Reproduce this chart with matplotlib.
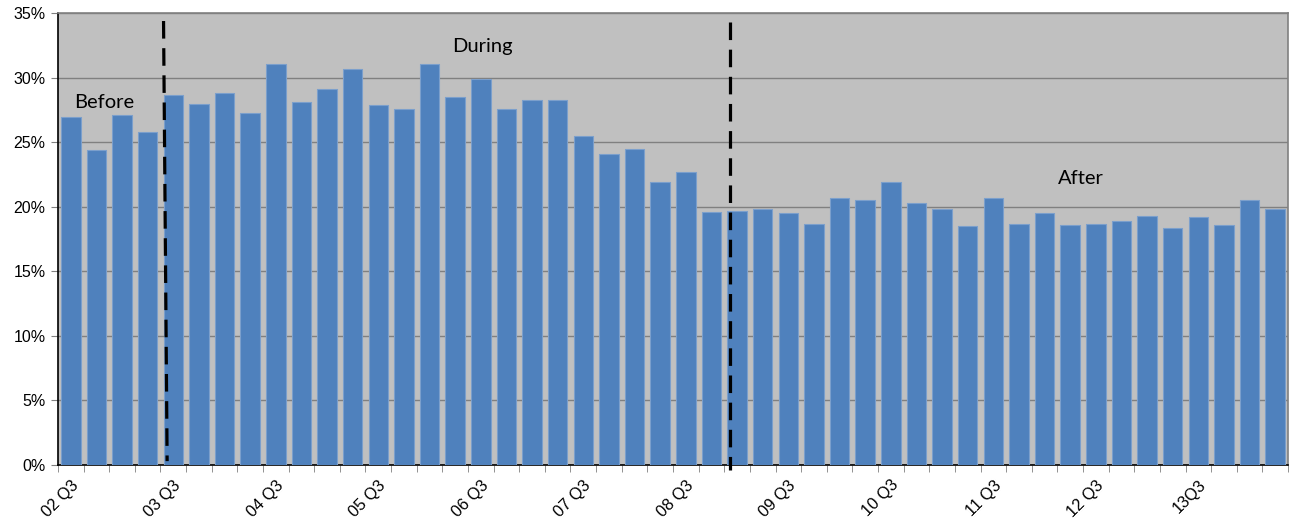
import numpy as np
import matplotlib.pyplot as plt
from matplotlib.ticker import FixedLocator

# quarterly share (%), 02 Q3 .. 14 Q2
share = [27.0, 24.4, 27.1, 25.8,
         28.7, 28.0, 28.8, 27.3,
         31.1, 28.1, 29.1, 30.7,
         27.9, 27.6, 31.1, 28.5,
         29.9, 27.6, 28.3, 28.3,
         25.5, 24.1, 24.5, 21.9,
         22.7, 19.6, 19.7, 19.8,
         19.5, 18.7, 20.7, 20.5,
         21.9, 20.3, 19.8, 18.5,
         20.7, 18.7, 19.5, 18.6,
         18.7, 18.9, 19.3, 18.4,
         19.2, 18.6, 20.5, 19.8]
tick_labels = ['02 Q3', '03 Q3', '04 Q3', '05 Q3', '06 Q3', '07 Q3',
               '08 Q3', '09 Q3', '10 Q3', '11 Q3', '12 Q3', '13Q3']
tick_pos = [0, 4, 8, 12, 16, 20, 24, 28, 32, 36, 40, 44]
phases = ['Before', 'During', 'After']
phase_x = [1.3, 16.05, 39.4]
phase_y = [28.1, 32.4, 22.2]

fig = plt.figure(figsize=(12.91, 5.25), dpi=100)
ax = fig.add_axes([0.0449, 0.1143, 0.9528, 0.8604])
ax.set_facecolor('#c0c0c0')

x = np.arange(len(share))
ax.bar(x, share, width=0.76, color='#4f81bd', edgecolor='#7b9fcc',
       linewidth=0.8, zorder=3)

ax.set_xlim(-0.5, len(share) - 0.5)
ax.set_ylim(0, 35)
ax.set_yticks(range(0, 36, 5))
ax.set_yticklabels([f'{v}%' for v in range(0, 36, 5)],
                   family='Liberation Sans', fontsize=11.5)
ax.yaxis.grid(True, color='#808080', linewidth=1.0, zorder=1)

ax.set_xticks(tick_pos)
ax.set_xticklabels(tick_labels, rotation=45, ha='right', va='top',
                   rotation_mode='anchor', family='Liberation Sans',
                   fontsize=11.8)
ax.xaxis.set_minor_locator(FixedLocator(np.arange(-0.5, len(share), 1)))
ax.tick_params(axis='x', which='major', length=0, pad=9)
ax.tick_params(axis='x', which='minor', length=5, color='#808080')
ax.tick_params(axis='y', length=5, color='#808080', pad=4)

for side in ['top', 'right']:
    ax.spines[side].set_color('#808080')
    ax.spines[side].set_linewidth(1.2)
ax.spines['left'].set_color('black')
ax.spines['bottom'].set_color('black')
ax.spines['left'].set_linewidth(1.2)
ax.spines['bottom'].set_linewidth(1.2)

# phase boundaries
ax.plot([3.62, 3.76], [34.4, 0.3], color='black', lw=2.3,
        dashes=(5.5, 3), zorder=4)
ax.plot([25.72, 25.72], [34.3, -0.4], color='black', lw=2.3,
        dashes=(5.5, 3), zorder=4, clip_on=False)

for t, px, py in zip(phases, phase_x, phase_y):
    ax.text(px, py, t, ha='center', va='center', fontsize=14.5,
            family='Lato', zorder=5)

fig.savefig('out.png', dpi=100)
